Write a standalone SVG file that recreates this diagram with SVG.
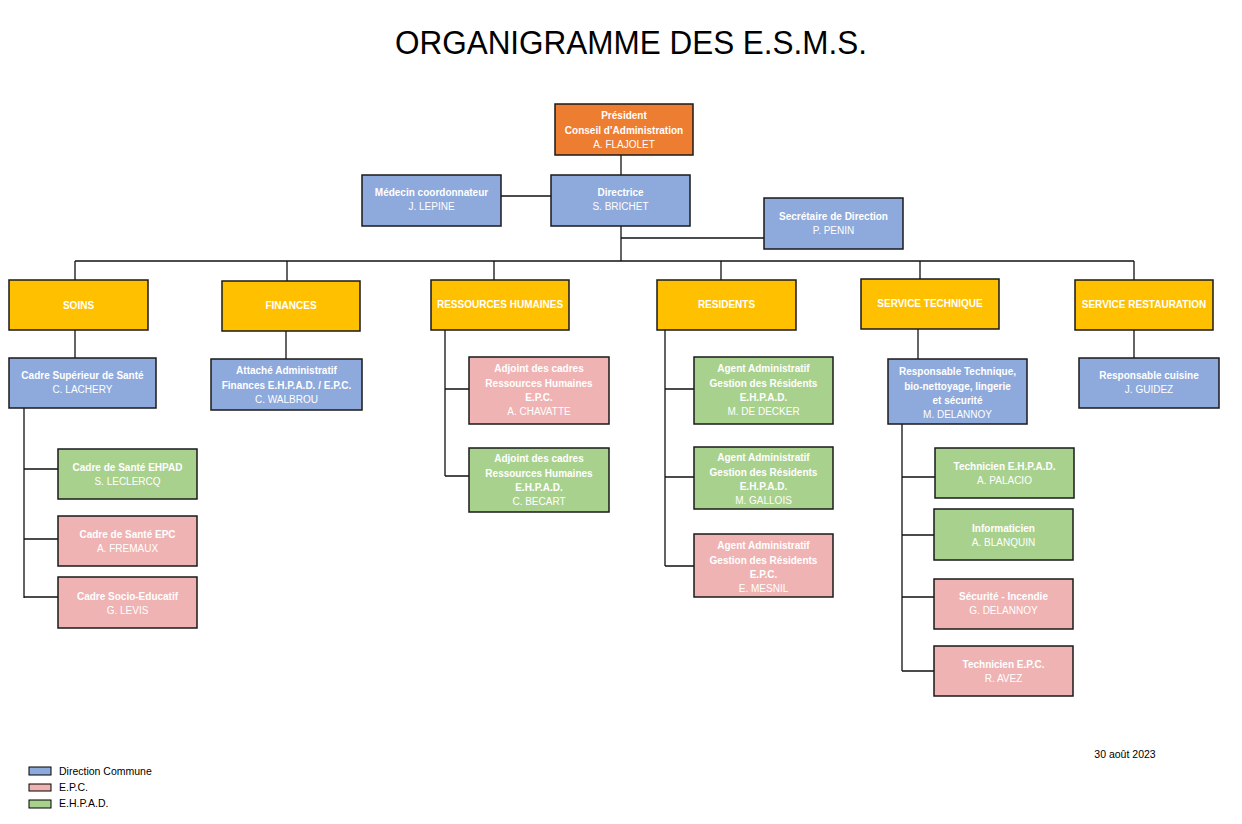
<svg xmlns="http://www.w3.org/2000/svg" width="1242" height="824" viewBox="0 0 1242 824">
<style>
.box{stroke:#1a1a1a;stroke-width:1.5}
.or{fill:#ED7D31}.bl{fill:#8EA9DB}.go{fill:#FFC000}.gr{fill:#A9D18E}.pk{fill:#EFB3B3}
text{font-family:"Liberation Sans",Arial,sans-serif;text-anchor:middle;fill:#ffffff}
.b{font-size:10px;font-weight:bold}
.n{font-size:10px}
.conn path{stroke:#111;stroke-width:1.3;fill:none}
.leg{font-size:10.5px;fill:#000;text-anchor:start}
</style>
<rect width="1242" height="824" fill="#ffffff"/>
<text x="631" y="54" style="font-size:34px;fill:#000" textLength="472" lengthAdjust="spacingAndGlyphs">ORGANIGRAMME DES E.S.M.S.</text>

<g class="conn" id="connectors">
<path d="M621,155V175"/>
<path d="M501,196H551"/>
<path d="M621,226V261"/>
<path d="M621,238H764"/>
<path d="M75,261H1134"/>
<path d="M75,261V280M287,261V281M494,261V280M721,261V280M920,261V279M1134,261V280"/>
<path d="M75,330V358"/>
<path d="M286,331V359"/>
<path d="M24,408V598M24,469H58M24,539H58M24,597H58"/>
<path d="M445,330V476M445,389H469M445,476H469"/>
<path d="M665,330V566M665,389H694M665,477H694M665,566H694"/>
<path d="M918,329V359"/>
<path d="M902,424V671M902,477H935M902,535H934M902,597H934M902,671H934"/>
<path d="M1134,330V358"/>
</g>

<g id="president"><rect class="box or" x="555" y="104" width="138" height="51"/>
<text class="b" x="624" y="118.5">Président</text><text class="b" x="624" y="133.5">Conseil d’Administration</text><text class="n" x="624" y="147.5">A. FLAJOLET</text></g>
<g id="directrice"><rect class="box bl" x="551" y="175" width="139" height="51"/>
<text class="b" x="620.5" y="195.5">Directrice</text><text class="n" x="620.5" y="209.5">S. BRICHET</text></g>
<g id="medecin"><rect class="box bl" x="362" y="175" width="139" height="51"/>
<text class="b" x="431.5" y="195.5">Médecin coordonnateur</text><text class="n" x="431.5" y="209.5">J. LEPINE</text></g>
<g id="secretaire"><rect class="box bl" x="764" y="198" width="139" height="51"/>
<text class="b" x="833.5" y="219.5">Secrétaire de Direction</text><text class="n" x="833.5" y="233.5">P. PENIN</text></g>

<g id="soins"><rect class="box go" x="9" y="280" width="139" height="50"/><text class="b" x="78.5" y="308.5">SOINS</text></g>
<g id="finances"><rect class="box go" x="222" y="281" width="138" height="50"/><text class="b" x="291" y="308.5">FINANCES</text></g>
<g id="rh"><rect class="box go" x="431" y="280" width="138" height="50"/><text class="b" x="500" y="307.5">RESSOURCES HUMAINES</text></g>
<g id="residents"><rect class="box go" x="657" y="280" width="139" height="50"/><text class="b" x="726.5" y="307.5">RESIDENTS</text></g>
<g id="service-technique"><rect class="box go" x="861" y="279" width="138" height="50"/><text class="b" x="930" y="306.5">SERVICE TECHNIQUE</text></g>
<g id="service-restauration"><rect class="box go" x="1075" y="280" width="138" height="50"/><text class="b" x="1144" y="307.5">SERVICE RESTAURATION</text></g>

<g id="cadre-superieur"><rect class="box bl" x="9" y="358" width="147" height="50"/>
<text class="b" x="82.5" y="378.5">Cadre Supérieur de Santé</text><text class="n" x="82.5" y="392.5">C. LACHERY</text></g>
<g id="attache"><rect class="box bl" x="211" y="359" width="151" height="51"/>
<text class="b" x="286.5" y="373.5">Attaché Administratif</text><text class="b" x="286.5" y="388.5">Finances E.H.P.A.D. / E.P.C.</text><text class="n" x="286.5" y="402.5">C. WALBROU</text></g>
<g id="cadre-sante-ehpad"><rect class="box gr" x="58" y="449" width="139" height="50"/>
<text class="b" x="127.5" y="470.5">Cadre de Santé EHPAD</text><text class="n" x="127.5" y="484.5">S. LECLERCQ</text></g>
<g id="cadre-sante-epc"><rect class="box pk" x="58" y="516" width="139" height="50"/>
<text class="b" x="127.5" y="537.5">Cadre de Santé EPC</text><text class="n" x="127.5" y="551.5">A. FREMAUX</text></g>
<g id="cadre-socio"><rect class="box pk" x="58" y="577" width="139" height="51"/>
<text class="b" x="127.5" y="599.5">Cadre Socio-Educatif</text><text class="n" x="127.5" y="613.5">G. LEVIS</text></g>

<g id="adjoint-epc"><rect class="box pk" x="469" y="357" width="140" height="67"/>
<text class="b" x="539" y="371.5">Adjoint des cadres</text><text class="b" x="539" y="386.5">Ressources Humaines</text><text class="b" x="539" y="400.5">E.P.C.</text><text class="n" x="539" y="414.5">A. CHAVATTE</text></g>
<g id="adjoint-ehpad"><rect class="box gr" x="469" y="448" width="140" height="64"/>
<text class="b" x="539" y="461.5">Adjoint des cadres</text><text class="b" x="539" y="476.5">Ressources Humaines</text><text class="b" x="539" y="490.5">E.H.P.A.D.</text><text class="n" x="539" y="504.5">C. BECART</text></g>

<g id="agent-1"><rect class="box gr" x="694" y="357" width="139" height="67"/>
<text class="b" x="763.5" y="371.5">Agent Administratif</text><text class="b" x="763.5" y="386.5">Gestion des Résidents</text><text class="b" x="763.5" y="400.5">E.H.P.A.D.</text><text class="n" x="763.5" y="414.5">M. DE DECKER</text></g>
<g id="agent-2"><rect class="box gr" x="694" y="447" width="139" height="62"/>
<text class="b" x="763.5" y="460.5">Agent Administratif</text><text class="b" x="763.5" y="475.5">Gestion des Résidents</text><text class="b" x="763.5" y="489.5">E.H.P.A.D.</text><text class="n" x="763.5" y="503.5">M. GALLOIS</text></g>
<g id="agent-3"><rect class="box pk" x="694" y="534" width="139" height="63"/>
<text class="b" x="763.5" y="548.5">Agent Administratif</text><text class="b" x="763.5" y="563.5">Gestion des Résidents</text><text class="b" x="763.5" y="577.5">E.P.C.</text><text class="n" x="763.5" y="591.5">E. MESNIL</text></g>

<g id="resp-technique"><rect class="box bl" x="888" y="359" width="139" height="65"/>
<text class="b" x="957.5" y="374.5">Responsable Technique,</text><text class="b" x="957.5" y="389.5">bio-nettoyage, lingerie</text><text class="b" x="957.5" y="403.5">et sécurité</text><text class="n" x="957.5" y="417.5">M. DELANNOY</text></g>
<g id="tech-ehpad"><rect class="box gr" x="935" y="448" width="139" height="50"/>
<text class="b" x="1004.5" y="469.5">Technicien E.H.P.A.D.</text><text class="n" x="1004.5" y="483.5">A. PALACIO</text></g>
<g id="informaticien"><rect class="box gr" x="934" y="509" width="139" height="51"/>
<text class="b" x="1003.5" y="531.5">Informaticien</text><text class="n" x="1003.5" y="545.5">A. BLANQUIN</text></g>
<g id="securite"><rect class="box pk" x="934" y="579" width="139" height="50"/>
<text class="b" x="1003.5" y="599.5">Sécurité - Incendie</text><text class="n" x="1003.5" y="613.5">G. DELANNOY</text></g>
<g id="tech-epc"><rect class="box pk" x="934" y="646" width="139" height="50"/>
<text class="b" x="1003.5" y="667.5">Technicien E.P.C.</text><text class="n" x="1003.5" y="681.5">R. AVEZ</text></g>
<g id="resp-cuisine"><rect class="box bl" x="1079" y="358" width="140" height="50"/>
<text class="b" x="1149" y="378.5">Responsable cuisine</text><text class="n" x="1149" y="392.5">J. GUIDEZ</text></g>

<text x="1125" y="758" style="font-size:10.5px;fill:#000">30 août 2023</text>

<g id="legend">
<rect class="bl" x="29" y="767" width="22" height="8" stroke="#000" stroke-width="1"/>
<text class="leg" x="59" y="775">Direction Commune</text>
<rect class="pk" x="29" y="784" width="22" height="7" stroke="#000" stroke-width="1"/>
<text class="leg" x="59" y="791">E.P.C.</text>
<rect class="gr" x="29" y="800" width="22" height="8" stroke="#000" stroke-width="1"/>
<text class="leg" x="59" y="807">E.H.P.A.D.</text>
</g>
</svg>
